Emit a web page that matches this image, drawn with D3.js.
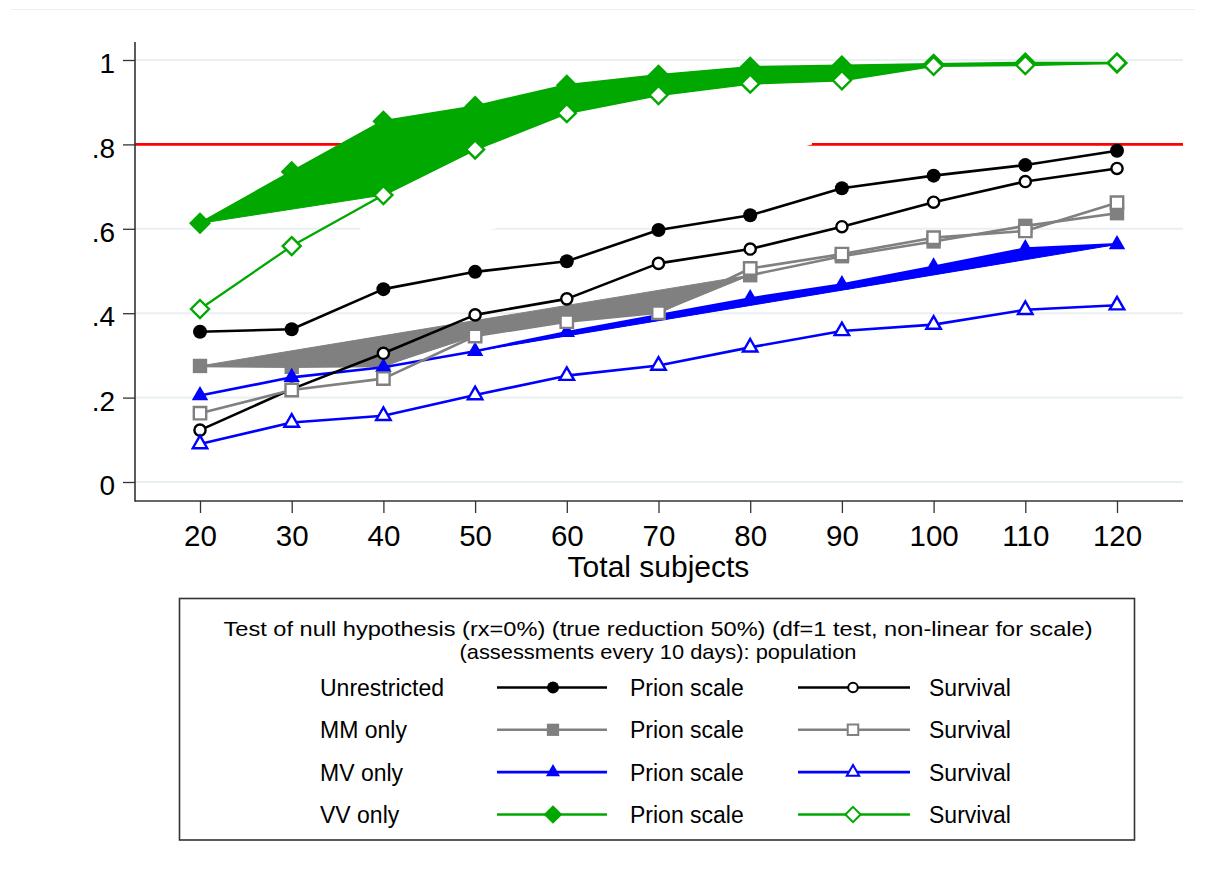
<!DOCTYPE html>
<html><head><meta charset="utf-8">
<script src="https://cdn.jsdelivr.net/npm/d3@7"></script>
<style>
body{margin:0;background:#fff}
svg{display:block}
text{font-family:"Liberation Sans",Arial,sans-serif;fill:#000}
</style>
</head><body>
<svg id="chart" width="1206" height="875"></svg>
<script>
// ---------------- data ----------------
const subjects = [20,30,40,50,60,70,80,90,100,110,120];
const yTickValues = [0,0.2,0.4,0.6,0.8,1];
const yTickLabels = ["0",".2",".4",".6",".8","1"];
const powerTarget = 0.8;

const unrestrictedPrion    = [0.356,0.362,0.457,0.498,0.523,0.597,0.632,0.696,0.726,0.751,0.785];
const unrestrictedSurvival = [0.123,0.220,0.305,0.396,0.434,0.518,0.552,0.605,0.663,0.712,0.743];
const mmPrion              = [0.275,0.273,0.275,0.360,0.400,0.430,0.490,0.535,0.570,0.607,0.637];
const mmSurvival           = [0.163,0.218,0.245,0.346,0.380,0.401,0.506,0.540,0.579,0.595,0.662];
const mvPrion              = [0.205,0.248,0.272,0.310,0.355,0.395,0.435,0.468,0.510,0.553,0.563];
const mvSurvival           = [0.090,0.141,0.157,0.206,0.252,0.276,0.319,0.358,0.373,0.408,0.419];
const vvPrion              = [0.613,0.735,0.855,0.890,0.940,0.964,0.983,0.986,0.990,0.993,0.993];
const vvSurvival           = [0.410,0.559,0.680,0.788,0.874,0.917,0.944,0.952,0.986,0.988,0.993];

const groupNames   = ["Unrestricted","MM only","MV only","VV only"];
const methodNames  = ["Prion scale","Survival"];
const legendTitle  = ["Test of null hypothesis (rx=0%) (true reduction 50%) (df=1 test, non-linear for scale)",
                      "(assessments every 10 days): population"];
const xAxisTitle   = "Total subjects";

// outlines of the filled bands seen in the picture (p = prion point, s = survival point, by index)
const mmFillOrder = ["p0","p6","s5","s4","s3","p2","p1"];
const mvFillOrder = ["p3","p4","p5","p6","p7","p8","p9","p10"];
const vvFillOrder = ["p0","p1","p2","p3","p4","p5","p6","p7","p8","p9","p10","s10","s9","s8","s7","s6","s5","s4","s3","s2"];
// white area that hides part of the target line and a gridline in the picture (subjects, power)
const maskPolygon = [[37.5,0.571],[47,0.571],[86.74,0.8],[86.74,0.87],[37.5,0.87]];

// ---------------- styles ----------------
const groupColors  = ["#000000","#808080","#0000ff","#00a800"];
const groupMarkers = ["circle","square","triangle","diamond"];
const prionSeries    = [unrestrictedPrion, mmPrion, mvPrion, vvPrion];
const survivalSeries = [unrestrictedSurvival, mmSurvival, mvSurvival, vvSurvival];

const svg = d3.select("#chart");
const x = d3.scaleLinear().domain([20,120]).range([200,1117]);
const y = d3.scaleLinear().domain([0,1]).range([482,60]);
const plotLeft = 135, plotRight = 1183, plotTop = 42, plotBottom = 501;

// faint top rule
svg.append("line").attr("x1",11).attr("x2",1195).attr("y1",9.5).attr("y2",9.5)
  .attr("stroke","#eef0f0").attr("stroke-width",1);

// gridlines
svg.append("g").selectAll("line").data(yTickValues).join("line")
  .attr("x1",plotLeft).attr("x2",plotRight)
  .attr("y1",d=>y(d)).attr("y2",d=>y(d))
  .attr("stroke","#e8f0f2").attr("stroke-width",2);

// target line
svg.append("line").attr("x1",plotLeft).attr("x2",plotRight)
  .attr("y1",y(powerTarget)).attr("y2",y(powerTarget))
  .attr("stroke","#ff0000").attr("stroke-width",2.6);

// mask
svg.append("path")
  .attr("d", d3.line().x(d=>x(d[0])).y(d=>y(d[1]))(maskPolygon) + "Z")
  .attr("fill","#ffffff");

// axes
const yAxis = d3.axisLeft(y).tickValues(yTickValues)
  .tickFormat((d,i)=>yTickLabels[i]).tickSize(12).tickPadding(8);
const gy = svg.append("g").attr("transform",`translate(${plotLeft},0)`).call(yAxis);
gy.select(".domain").remove();
gy.selectAll(".tick line").attr("stroke","#333").attr("stroke-width",1.3);
gy.selectAll(".tick text").attr("font-size",28).attr("dy","0.45em")
  .attr("font-family","Liberation Sans, Arial, sans-serif");

const xAxis = d3.axisBottom(x).tickValues(subjects).tickSize(12).tickPadding(12);
const gx = svg.append("g").attr("transform",`translate(0,${plotBottom})`).call(xAxis);
gx.select(".domain").remove();
gx.selectAll(".tick line").attr("stroke","#333").attr("stroke-width",1.3);
gx.selectAll(".tick text").attr("font-size",29.5)
  .attr("font-family","Liberation Sans, Arial, sans-serif");

svg.append("line").attr("x1",plotLeft).attr("x2",plotLeft).attr("y1",plotTop).attr("y2",plotBottom+0.7)
  .attr("stroke","#333").attr("stroke-width",1.6);
svg.append("line").attr("x1",plotLeft).attr("x2",plotRight).attr("y1",plotBottom).attr("y2",plotBottom)
  .attr("stroke","#333").attr("stroke-width",1.6);

svg.append("text").attr("x",(x(20)+x(120))/2).attr("y",577).attr("text-anchor","middle")
  .attr("font-size",30).text(xAxisTitle);

// ---------------- marks ----------------
function markerPath(type, filled, k) {
  k = k || 1;
  if (type === "circle") {
    const r = (filled ? 7 : 5.6) * k;
    return `M${-r},0A${r},${r} 0 1,0 ${r},0A${r},${r} 0 1,0 ${-r},0Z`;
  }
  if (type === "square") {
    const h = (filled ? 7.2 : 6.2) * k;
    return `M${-h},${-h}H${h}V${h}H${-h}Z`;
  }
  if (type === "triangle") {
    const s = (filled ? 16.5 : 14.5) * k;
    const a = s/Math.sqrt(3), b = s/(2*Math.sqrt(3));
    return `M0,${-a}L${s/2},${b}L${-s/2},${b}Z`;
  }
  const h = (filled ? 11 : 9) * k;
  return `M0,${-h}L${h},0L0,${h}L${-h},0Z`;
}

function drawMarker(g, type, filled, color, cx, cy, k) {
  g.append("path").attr("d", markerPath(type, filled, k))
    .attr("transform",`translate(${cx},${cy})`)
    .attr("fill", filled ? color : "#ffffff")
    .attr("stroke", filled ? "none" : color)
    .attr("stroke-width", filled ? 0 : (k && k < 1 ? 2 : 2.4));
}

// filled bands
function bandPoints(order, prion, surv) {
  return order.map(code => {
    const arr = code[0] === "p" ? prion : surv;
    const i = +code.slice(1);
    return [x(subjects[i]), y(arr[i])];
  });
}
const bandLine = d3.line();
const bands = [
  {order: mmFillOrder, g: 1},
  {order: mvFillOrder, g: 2},
  {order: vvFillOrder, g: 3}
];
bands.forEach(b => {
  svg.append("path")
    .attr("d", bandLine(bandPoints(b.order, prionSeries[b.g], survivalSeries[b.g])) + "Z")
    .attr("fill", groupColors[b.g]).attr("stroke", groupColors[b.g]).attr("stroke-width",1)
    .attr("stroke-linejoin","round");
});

const line = d3.line().x((d,i)=>x(subjects[i])).y(d=>y(d));
function drawSeries(values, gi, filled) {
  const g = svg.append("g");
  g.append("path").attr("d", line(values)).attr("fill","none")
    .attr("stroke", groupColors[gi]).attr("stroke-width", gi===3 && !filled ? 2.3 : 2.6)
    .attr("stroke-linejoin","round");
  values.forEach((v,i)=> drawMarker(g, groupMarkers[gi], filled, groupColors[gi], x(subjects[i]), y(v)));
}
prionSeries.forEach((s,gi)=>drawSeries(s, gi, true));
survivalSeries.forEach((s,gi)=>drawSeries(s, gi, false));

// ---------------- legend ----------------
const lg = svg.append("g");
lg.append("rect").attr("x",179.5).attr("y",598.5).attr("width",955).attr("height",241.5)
  .attr("fill","#fff").attr("stroke","#333").attr("stroke-width",1.6);
lg.append("text").attr("x",658).attr("y",636).attr("text-anchor","middle").attr("font-size",21)
  .attr("textLength",869).attr("lengthAdjust","spacingAndGlyphs").text(legendTitle[0]);
lg.append("text").attr("x",658).attr("y",659).attr("text-anchor","middle").attr("font-size",21)
  .attr("textLength",397).attr("lengthAdjust","spacingAndGlyphs").text(legendTitle[1]);
const rowBase = [696, 738.3, 780.6, 823];
groupNames.forEach((name, gi) => {
  const by = rowBase[gi], my = by - 8.5;
  lg.append("text").attr("x",320).attr("y",by).attr("font-size",23).text(name);
  [[497,607,553,630,true],[798,910,853,929,false]].forEach(([a,b,m,tx,filled],mi)=>{
    lg.append("line").attr("x1",a).attr("x2",b).attr("y1",my).attr("y2",my)
      .attr("stroke",groupColors[gi]).attr("stroke-width",2.6);
    drawMarker(lg, groupMarkers[gi], filled, groupColors[gi], m, my, 0.85);
    lg.append("text").attr("x",tx).attr("y",by).attr("font-size",23).text(methodNames[mi]);
  });
});
</script>
</body></html>
